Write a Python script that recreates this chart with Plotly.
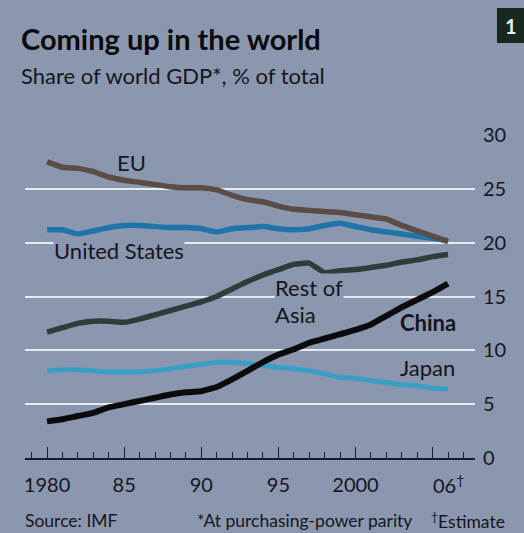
import plotly.graph_objects as go

years = list(range(1980, 2007))
eu = [27.5, 27.0, 26.9, 26.6, 26.1, 25.8, 25.6, 25.4, 25.2, 25.1, 25.1, 24.9, 24.4, 24.0, 23.8,
      23.4, 23.1, 23.0, 22.9, 22.8, 22.6, 22.4, 22.2, 21.6, 21.1, 20.6, 20.1]
us = [21.2, 21.2, 20.8, 21.1, 21.4, 21.6, 21.6, 21.5, 21.4, 21.4, 21.3, 21.0, 21.3, 21.4, 21.5,
      21.3, 21.2, 21.3, 21.6, 21.8, 21.5, 21.2, 21.0, 20.8, 20.6, 20.4, 20.2]
rest_asia = [11.7, 12.1, 12.5, 12.7, 12.7, 12.6, 12.9, 13.3, 13.7, 14.1, 14.5, 15.0, 15.7, 16.4, 17.0,
             17.5, 18.0, 18.1, 17.2, 17.4, 17.5, 17.7, 17.9, 18.2, 18.4, 18.7, 18.9]
china = [3.4, 3.6, 3.9, 4.2, 4.7, 5.0, 5.3, 5.6, 5.9, 6.1, 6.2, 6.6, 7.3, 8.1, 8.9,
         9.6, 10.1, 10.7, 11.1, 11.5, 11.9, 12.4, 13.2, 14.0, 14.7, 15.4, 16.2]
japan = [8.1, 8.2, 8.2, 8.1, 8.0, 8.0, 8.0, 8.1, 8.3, 8.5, 8.7, 8.9, 8.9, 8.8, 8.6,
         8.4, 8.3, 8.1, 7.8, 7.5, 7.4, 7.2, 7.0, 6.8, 6.7, 6.5, 6.4]

x_tickvals = [1980, 1985, 1990, 1995, 2000, 2005]
x_ticktext = ["1980", "85", "90", "95", "2000", ""]
y_tickvals = [0, 5, 10, 15, 20, 25, 30]

W, H = 524, 533
L, R, T, B = 25, 49, 135, 75
PW, PH = W - L - R, H - T - B

BG = "#8b97ae"
FONT = "Lato, Open Sans, sans-serif"
INK = "#151520"

def px(xp):
    return (xp - L) / PW

def py(yp):
    return (H - yp - B) / PH

series = [
    ("Rest of Asia", rest_asia, "#2e3d3a", 5.5),
    ("Japan", japan, "#3a9fc6", 5),
    ("China", china, "#0b0b0b", 6),
    ("United States", us, "#1f74aa", 5.5),
    ("EU", eu, "#5a4d45", 5.5),
]

fig = go.Figure()
for name, vals, col, w in series:
    fig.add_trace(go.Scatter(x=years, y=vals, mode="lines", name=name,
                             line=dict(color=col, width=w, shape="spline", smoothing=0.3),
                             showlegend=False, hoverinfo="skip"))

def lab(text, x, y, bold=False, bg=None):
    fig.add_annotation(x=x, y=y, xref="x", yref="y", text=f"<b>{text}</b>" if bold else text,
                       showarrow=False, xanchor="left", yanchor="middle", align="left",
                       font=dict(family=FONT, size=22, color=INK),
                       bgcolor=bg, borderpad=0)

lab("EU", 1984.5, 27.4)
lab("United States", 1980.4, 19.3, bg=BG)
lab("Rest of", 1994.7, 15.8, bg=BG)
lab("Asia", 1994.7, 13.3)
lab("China", 2002.8, 12.6, bold=True)
lab("Japan", 2002.8, 8.4)

fig.add_annotation(x=2006, y=0, xref="x", yref="y", text="06<sup>†</sup>", showarrow=False,
                   xanchor="right", yanchor="top", xshift=18, yshift=-11,
                   font=dict(family=FONT, size=20, color=INK))

# titles and footnotes (pixel positions converted to paper coordinates)
fig.add_annotation(x=px(19), y=py(38), xref="paper", yref="paper", text="<b>Coming up in the world</b>",
                   showarrow=False, xanchor="left", yanchor="middle",
                   font=dict(family=FONT, size=29, color="#0a0a0a"))
fig.add_annotation(x=px(19), y=py(76), xref="paper", yref="paper", text="Share of world GDP*, % of total",
                   showarrow=False, xanchor="left", yanchor="middle",
                   font=dict(family=FONT, size=22, color=INK))
for txt, xx in [("Source: IMF", 23), ("*At purchasing-power parity", 195), ("<sup>†</sup>Estimate", 429)]:
    fig.add_annotation(x=px(xx), y=py(520), xref="paper", yref="paper", text=txt, showarrow=False,
                       xanchor="left", yanchor="middle", font=dict(family=FONT, size=17.5, color=INK))

fig.add_shape(type="rect", xref="paper", yref="paper", x0=px(497), x1=px(524), y0=py(43), y1=py(8),
              fillcolor="#17281e", line_width=0, layer="below")
fig.add_annotation(x=px(511), y=py(26), xref="paper", yref="paper", text="<b>1</b>", showarrow=False,
                   xanchor="center", yanchor="middle", font=dict(family=FONT, size=20, color="#e8eef0"))

fig.update_layout(
    width=W, height=H,
    margin=dict(l=L, r=R, t=T, b=B, pad=0, autoexpand=False),
    paper_bgcolor=BG, plot_bgcolor=BG,
    font=dict(family=FONT, color=INK),
)

fig.update_xaxes(range=[1978.57, 2007.75], tickvals=x_tickvals, ticktext=x_ticktext, automargin=False,
                 showgrid=False, zeroline=False, showline=True, linecolor="#1a1a30", linewidth=1.5,
                 ticks="inside", ticklen=11, tickwidth=1.3, tickcolor="#1a1a30",
                 tickfont=dict(family=FONT, size=20, color=INK), ticklabelstandoff=8,
                 minor=dict(dtick=1, tick0=1980, ticks="inside", ticklen=6, tickwidth=1.2,
                            tickcolor="#1a1a30", showgrid=False))
fig.update_yaxes(range=[0, 30], tickvals=y_tickvals, side="right", showgrid=True, automargin=False,
                 gridcolor="#e8ecf2", gridwidth=2, zeroline=False, showline=False, ticks="",
                 tickfont=dict(family=FONT, size=20, color=INK), ticklabelstandoff=7)

fig.write_html("out.html", config={"displayModeBar": False},
               post_script="document.body.style.margin='0';document.body.style.overflow='hidden';")
